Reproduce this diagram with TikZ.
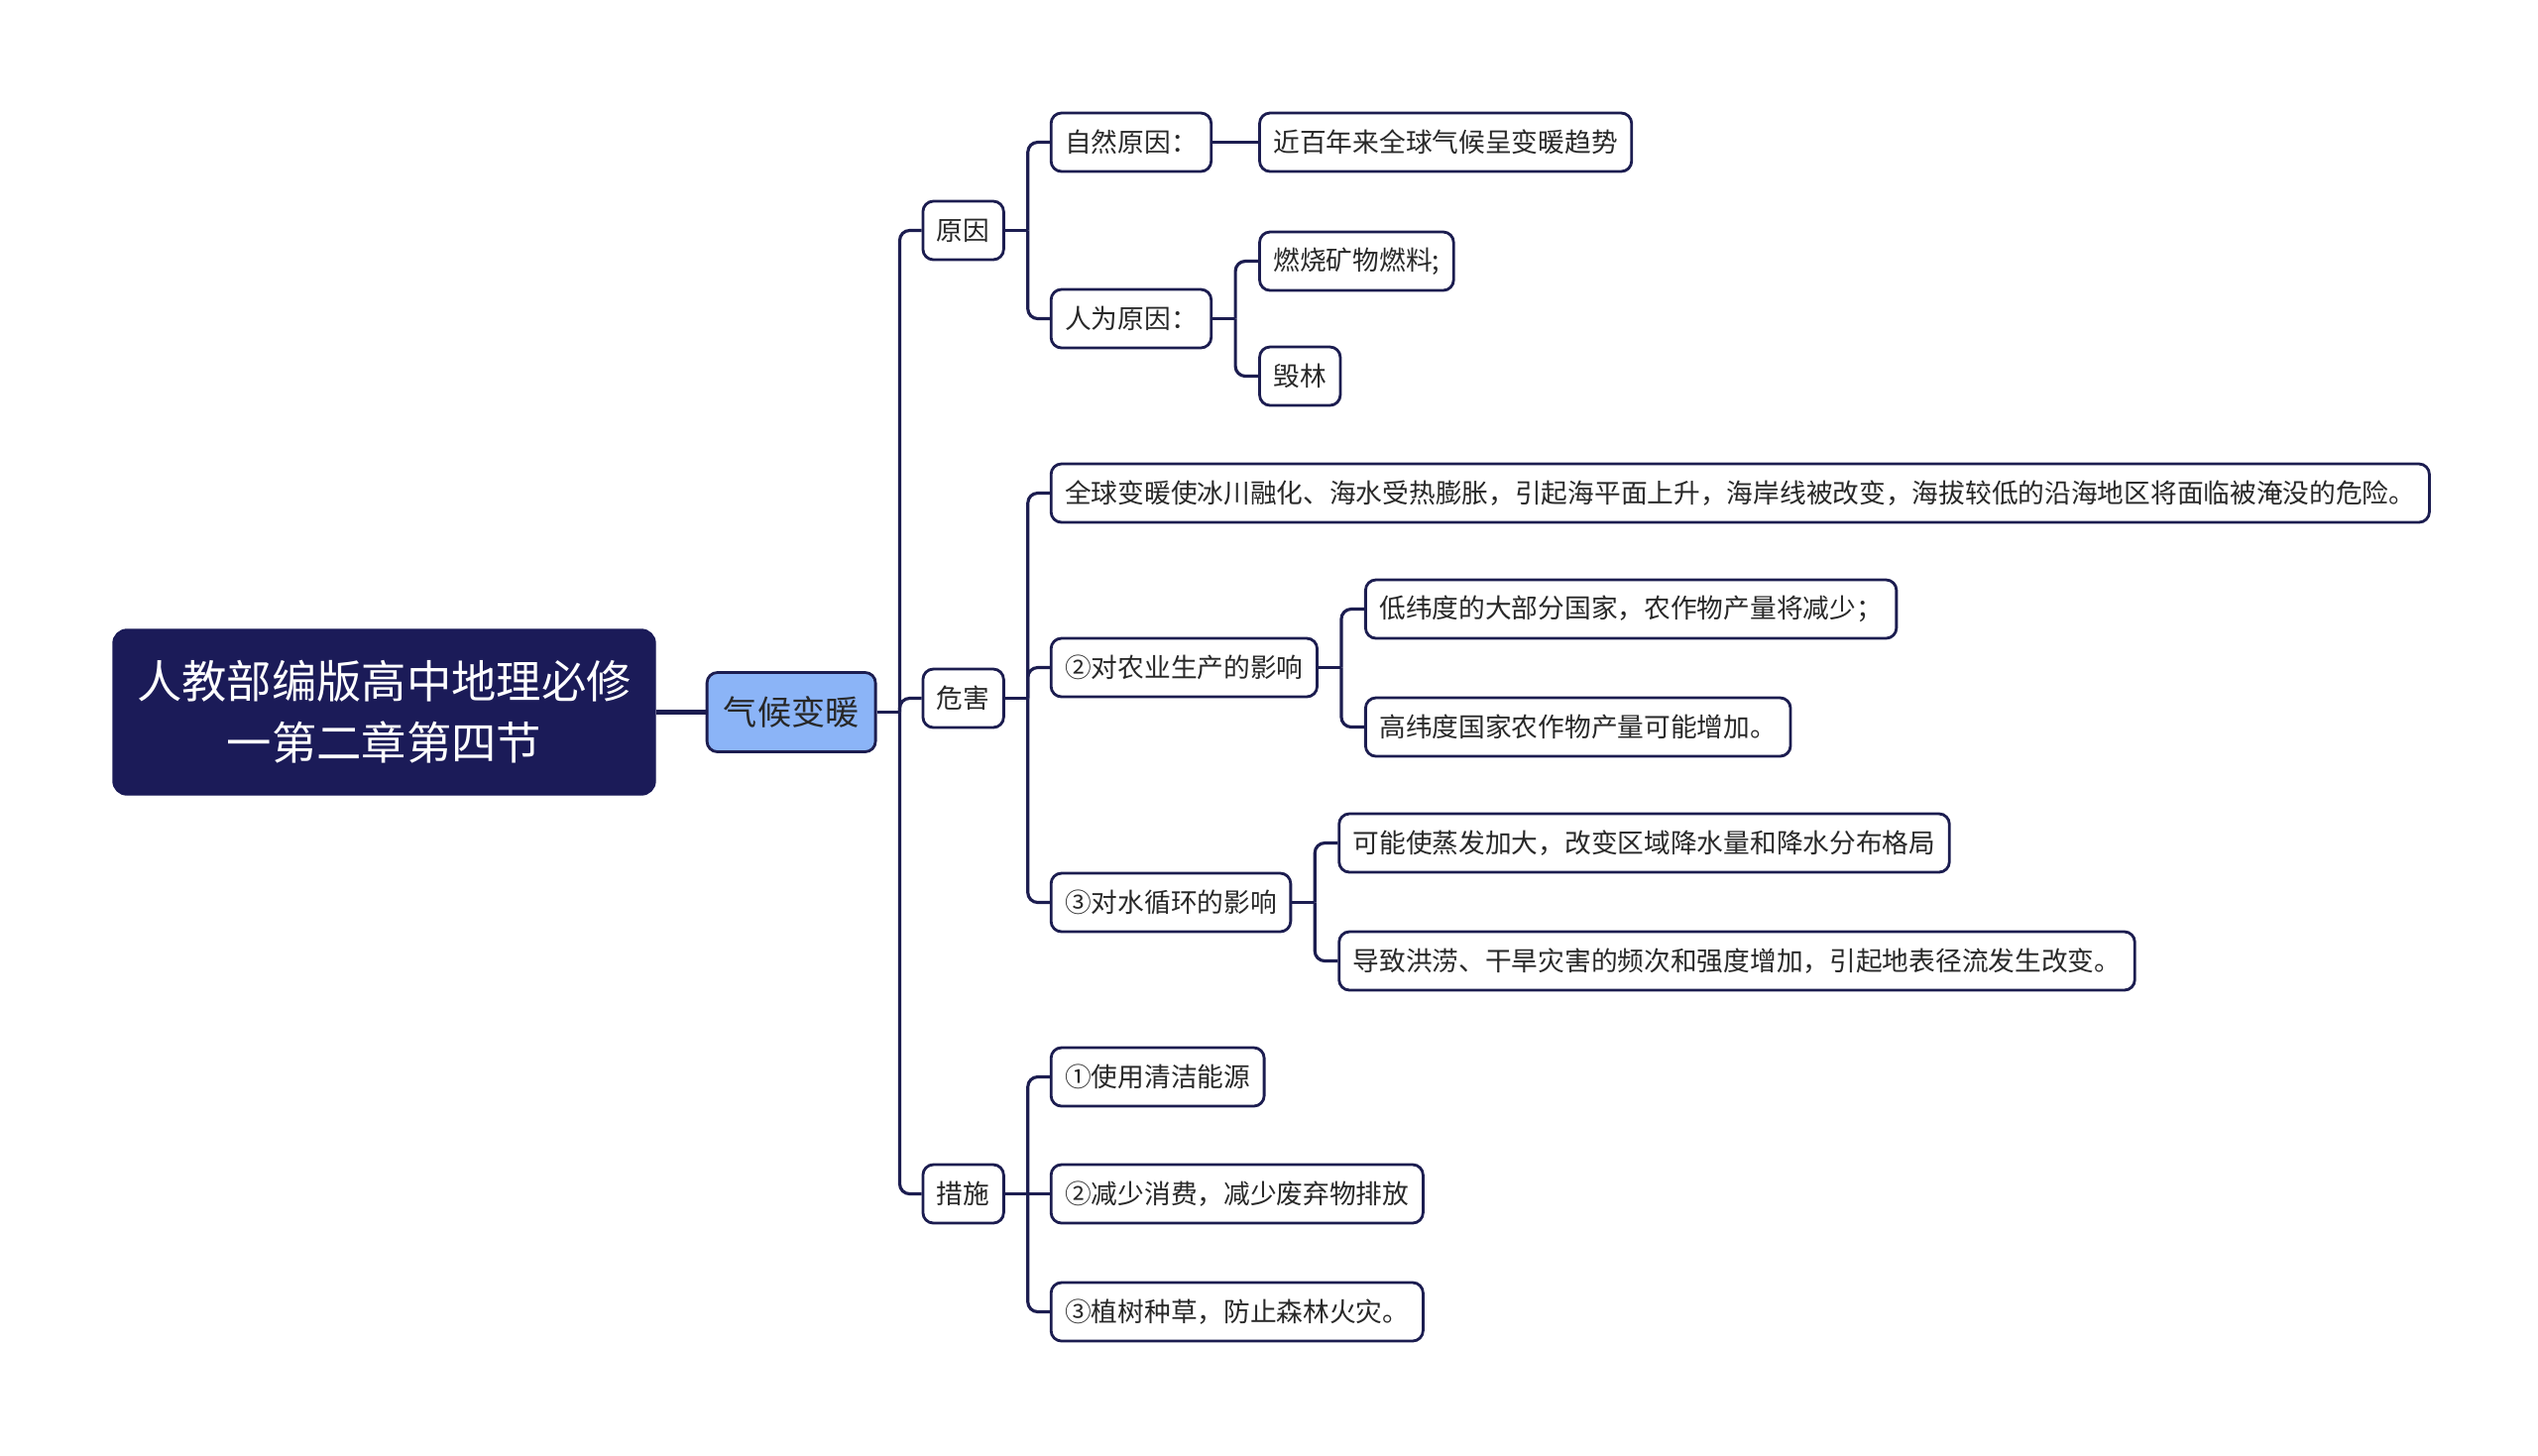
\documentclass[tikz,border=0pt]{standalone}
\usepackage{fontspec}
\newfontfamily\cjk{Noto Sans CJK SC}
\usetikzlibrary{positioning, calc}
\definecolor{navy}{RGB}{28,29,80}
\definecolor{rootfill}{RGB}{27,27,88}
\definecolor{topicfill}{RGB}{139,180,247}
\definecolor{txt}{RGB}{40,40,40}

\newcommand\twig[2]{\draw[link] (#1.east) -- ++(0.23,0);
  \draw[link, rounded corners=0.1cm] (#1.east) ++(0.23,0) |- (#2.west);}

\begin{document}
\begin{tikzpicture}[
  link/.style={draw=navy, line width=0.9pt},
  root/.style={fill=rootfill, draw=rootfill, rounded corners=4pt, text=white,
    font=\cjk\fontsize{12.9}{17.6}\selectfont, align=center,
    minimum width=5.47cm, minimum height=1.67cm},
  topic/.style={fill=topicfill, draw=navy, line width=0.8pt, rounded corners=3pt,
    text=txt, font=\cjk\fontsize{9.7}{12}\selectfont,
    minimum width=1.7cm, minimum height=0.8cm},
  leaf/.style={fill=white, draw=navy, line width=0.8pt, rounded corners=3pt,
    text=txt, font=\cjk\fontsize{7.6}{9}\selectfont,
    minimum height=0.59cm, inner xsep=0.14cm},
]
  \useasboundingbox (0,0) rectangle (25.6,-14.68);

  \node[root] (root) at (3.875,-7.185) {人教部编版高中地理必修\\一第二章第四节};
  \node[topic, right=0.50cm of root] (topic) {气候变暖};

  \node[leaf, right=0.45cm of topic, yshift=4.86cm]  (cause)   {原因};
  \node[leaf, right=0.45cm of topic, yshift=0.14cm]  (harm)    {危害};
  \node[leaf, right=0.45cm of topic, yshift=-4.86cm] (measure) {措施};

  \node[leaf, right=0.45cm of cause, yshift=0.89cm]  (natural) {自然原因：};
  \node[leaf, right=0.45cm of cause, yshift=-0.89cm] (human)   {人为原因：};
  \node[leaf, right=0.46cm of natural] (trend) {近百年来全球气候呈变暖趋势};
  \node[leaf, right=0.46cm of human, yshift=0.58cm]  (fuel) {燃烧矿物燃料;};
  \node[leaf, right=0.46cm of human, yshift=-0.58cm] (wood) {毁林};

  \node[leaf, right=0.45cm of harm, yshift=2.07cm]  (sea)   {全球变暖使冰川融化、海水受热膨胀，引起海平面上升，海岸线被改变，海拔较低的沿海地区将面临被淹没的危险。};
  \node[leaf, right=0.45cm of harm, yshift=0.31cm]  (farm)  {②对农业生产的影响};
  \node[leaf, right=0.45cm of harm, yshift=-2.06cm] (water) {③对水循环的影响};
  \node[leaf, right=0.46cm of farm, yshift=0.59cm]   (low)  {低纬度的大部分国家，农作物产量将减少；};
  \node[leaf, right=0.46cm of farm, yshift=-0.60cm]  (high) {高纬度国家农作物产量可能增加。};
  \node[leaf, right=0.46cm of water, yshift=0.60cm]  (rain) {可能使蒸发加大，改变区域降水量和降水分布格局};
  \node[leaf, right=0.46cm of water, yshift=-0.59cm] (flood) {导致洪涝、干旱灾害的频次和强度增加，引起地表径流发生改变。};

  \node[leaf, right=0.45cm of measure, yshift=1.18cm]  (clean) {①使用清洁能源};
  \node[leaf, right=0.45cm of measure]                 (waste) {②减少消费，减少废弃物排放};
  \node[leaf, right=0.45cm of measure, yshift=-1.19cm] (tree)  {③植树种草，防止森林火灾。};

  \draw[link, line width=1.4pt] (root) -- (topic);
  \twig{topic}{cause}
  \twig{topic}{harm}
  \twig{topic}{measure}
  \twig{cause}{natural}
  \twig{cause}{human}
  \draw[link] (natural) -- (trend);
  \twig{human}{fuel}
  \twig{human}{wood}
  \twig{harm}{sea}
  \twig{harm}{farm}
  \twig{harm}{water}
  \twig{farm}{low}
  \twig{farm}{high}
  \twig{water}{rain}
  \twig{water}{flood}
  \twig{measure}{clean}
  \draw[link] (measure) -- (waste);
  \twig{measure}{tree}
\end{tikzpicture}
\end{document}
